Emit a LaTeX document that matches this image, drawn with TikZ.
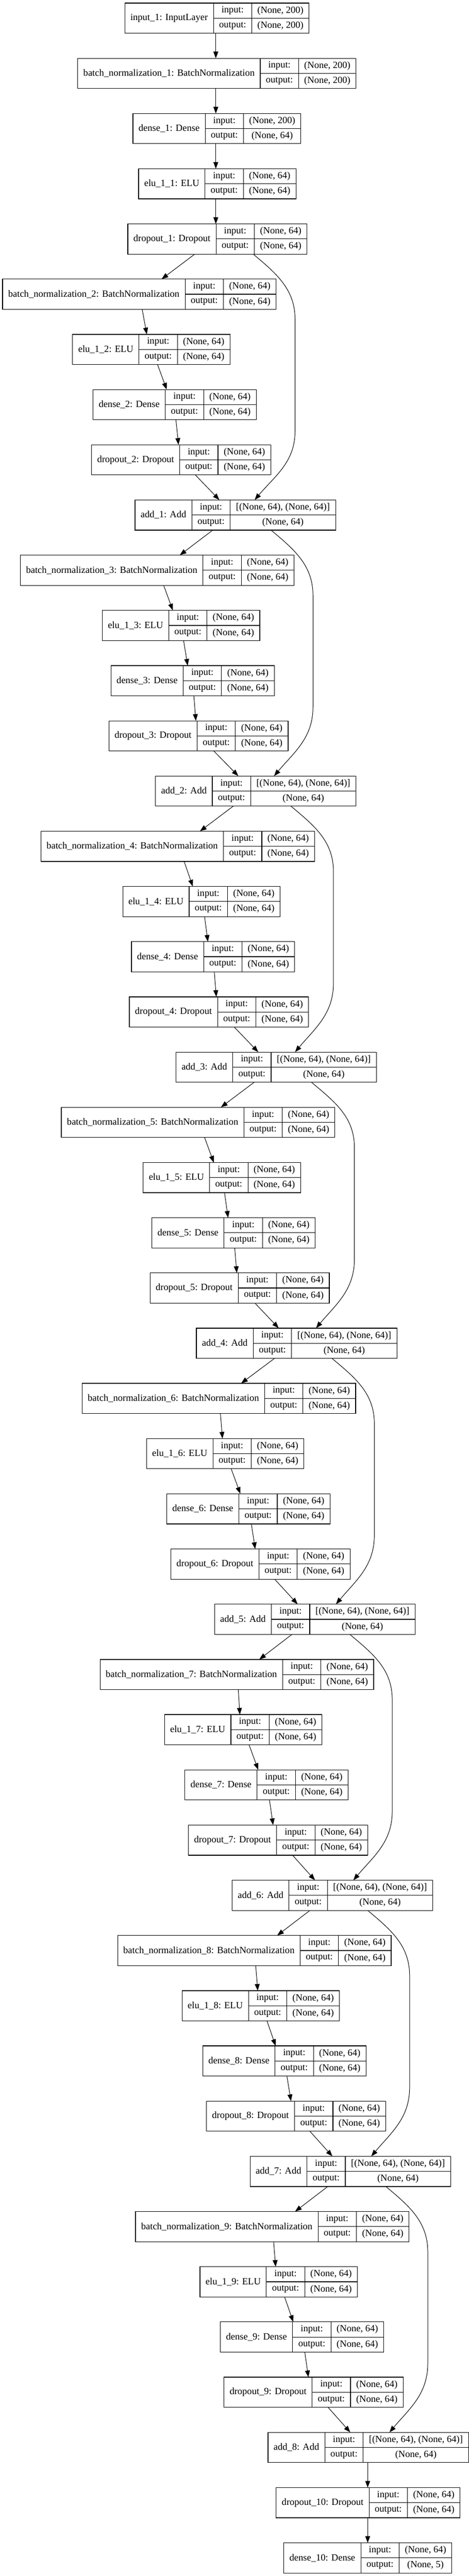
\documentclass[tikz,border=0pt]{standalone}
\usepackage{fontspec}
\setmainfont{Liberation Serif}
\usetikzlibrary{arrows.meta}

\tikzset{
  cell/.style={draw, line width=1.2pt, inner sep=0pt, outer sep=0pt, font=\fontsize{18.67}{20}\selectfont},
  lbl/.style={cell, minimum height=59pt, inner xsep=11pt},
  fld/.style={cell, minimum height=29.5pt, minimum width=75pt},
  val/.style={cell, minimum height=29.5pt},
  edge/.style={-{Triangle[length=13pt,width=9.5pt]}, line width=1pt}
}

% one keras layer record: name, left x, top y, label, input, output, value width
\newcommand\layer[7]{%
  \node[lbl, anchor=north west] (#1) at (#2,-#3) {#4};
  \node[fld, anchor=north west] (#1-fi) at (#1.north east) {input:};
  \node[fld, anchor=north west] (#1-fo) at (#1-fi.south west) {output:};
  \node[val, minimum width=#7pt, anchor=north west] (#1-vi) at (#1-fi.north east) {#5};
  \node[val, minimum width=#7pt, anchor=north west] (#1-vo) at (#1-fo.north east) {#6};
}

\begin{document}
\begin{tikzpicture}[x=1pt, y=1pt]
    \fill[white] (0,0) rectangle (914,-5039);

    % input stem
    \layer{input1}{244}{6}{input\_1: InputLayer}{(None, 200)}{(None, 200)}{112}
    \layer{bn1}{152}{114}{batch\_normalization\_1: BatchNormalization}{(None, 200)}{(None, 200)}{112}
    \layer{dense1}{260}{222}{dense\_1: Dense}{(None, 200)}{(None, 64)}{112}
    \layer{elu1}{271}{330}{elu\_1\_1: ELU}{(None, 64)}{(None, 64)}{103}
    \layer{drop1}{250}{438}{dropout\_1: Dropout}{(None, 64)}{(None, 64)}{103}

    % residual blocks
    \layer{bn2}{5}{546}{batch\_normalization\_2: BatchNormalization}{(None, 64)}{(None, 64)}{103}
    \layer{elu2}{142}{654}{elu\_1\_2: ELU}{(None, 64)}{(None, 64)}{103}
    \layer{dense2}{182}{762}{dense\_2: Dense}{(None, 64)}{(None, 64)}{103}
    \layer{drop2}{179}{870}{dropout\_2: Dropout}{(None, 64)}{(None, 64)}{103}
    \layer{add1}{264}{978}{add\_1: Add}{[(None, 64), (None, 64)]}{(None, 64)}{206}

    \layer{bn3}{40}{1086}{batch\_normalization\_3: BatchNormalization}{(None, 64)}{(None, 64)}{103}
    \layer{elu3}{200}{1194}{elu\_1\_3: ELU}{(None, 64)}{(None, 64)}{103}
    \layer{dense3}{217}{1302}{dense\_3: Dense}{(None, 64)}{(None, 64)}{103}
    \layer{drop3}{213}{1410}{dropout\_3: Dropout}{(None, 64)}{(None, 64)}{103}
    \layer{add2}{304}{1518}{add\_2: Add}{[(None, 64), (None, 64)]}{(None, 64)}{206}

    \layer{bn4}{80}{1626}{batch\_normalization\_4: BatchNormalization}{(None, 64)}{(None, 64)}{103}
    \layer{elu4}{240}{1734}{elu\_1\_4: ELU}{(None, 64)}{(None, 64)}{103}
    \layer{dense4}{257}{1842}{dense\_4: Dense}{(None, 64)}{(None, 64)}{103}
    \layer{drop4}{253}{1950}{dropout\_4: Dropout}{(None, 64)}{(None, 64)}{103}
    \layer{add3}{344}{2058}{add\_3: Add}{[(None, 64), (None, 64)]}{(None, 64)}{206}

    \layer{bn5}{120}{2166}{batch\_normalization\_5: BatchNormalization}{(None, 64)}{(None, 64)}{103}
    \layer{elu5}{280}{2274}{elu\_1\_5: ELU}{(None, 64)}{(None, 64)}{103}
    \layer{dense5}{297}{2382}{dense\_5: Dense}{(None, 64)}{(None, 64)}{103}
    \layer{drop5}{293.5}{2490}{dropout\_5: Dropout}{(None, 64)}{(None, 64)}{103}
    \layer{add4}{384}{2598}{add\_4: Add}{[(None, 64), (None, 64)]}{(None, 64)}{206}

    \layer{bn6}{160.5}{2706}{batch\_normalization\_6: BatchNormalization}{(None, 64)}{(None, 64)}{103}
    \layer{elu6}{286.5}{2814}{elu\_1\_6: ELU}{(None, 64)}{(None, 64)}{103}
    \layer{dense6}{326}{2922}{dense\_6: Dense}{(None, 64)}{(None, 64)}{103}
    \layer{drop6}{334}{3030}{dropout\_6: Dropout}{(None, 64)}{(None, 64)}{103}
    \layer{add5}{419.5}{3138}{add\_5: Add}{[(None, 64), (None, 64)]}{(None, 64)}{206}

    \layer{bn7}{195.7}{3246}{batch\_normalization\_7: BatchNormalization}{(None, 64)}{(None, 64)}{103}
    \layer{elu7}{321.6}{3354}{elu\_1\_7: ELU}{(None, 64)}{(None, 64)}{103}
    \layer{dense7}{361.5}{3462}{dense\_7: Dense}{(None, 64)}{(None, 64)}{103}
    \layer{drop7}{368.5}{3570}{dropout\_7: Dropout}{(None, 64)}{(None, 64)}{103}
    \layer{add6}{454}{3678}{add\_6: Add}{[(None, 64), (None, 64)]}{(None, 64)}{206}

    \layer{bn8}{230}{3786}{batch\_normalization\_8: BatchNormalization}{(None, 64)}{(None, 64)}{103}
    \layer{elu8}{356}{3894}{elu\_1\_8: ELU}{(None, 64)}{(None, 64)}{103}
    \layer{dense8}{396.6}{4002}{dense\_8: Dense}{(None, 64)}{(None, 64)}{103}
    \layer{drop8}{403.6}{4110}{dropout\_8: Dropout}{(None, 64)}{(None, 64)}{103}
    \layer{add7}{489}{4218}{add\_7: Add}{[(None, 64), (None, 64)]}{(None, 64)}{206}

    \layer{bn9}{265}{4326}{batch\_normalization\_9: BatchNormalization}{(None, 64)}{(None, 64)}{103}
    \layer{elu9}{391}{4434}{elu\_1\_9: ELU}{(None, 64)}{(None, 64)}{103}
    \layer{dense9}{431}{4542}{dense\_9: Dense}{(None, 64)}{(None, 64)}{103}
    \layer{drop9}{438}{4650}{dropout\_9: Dropout}{(None, 64)}{(None, 64)}{103}
    \layer{add8}{524}{4758}{add\_8: Add}{[(None, 64), (None, 64)]}{(None, 64)}{206}

    % head
    \layer{drop10}{540}{4866}{dropout\_10: Dropout}{(None, 64)}{(None, 64)}{103}
    \layer{dense10}{555}{4974}{dense\_10: Dense}{(None, 64)}{(None, 5)}{103}

    % main path
    \draw[edge] ([xshift=178]input1.south west) -- ([xshift=270]bn1.north west);
    \draw[edge] ([xshift=270]bn1.south west) -- ([xshift=162]dense1.north west);
    \draw[edge] ([xshift=162]dense1.south west) -- ([xshift=151]elu1.north west);
    \draw[edge] ([xshift=151]elu1.south west) -- ([xshift=172]drop1.north west);

    \draw[edge] ([xshift=131]drop1.south west) -- ([xshift=311]bn2.north west);
    \draw[edge] ([xshift=273]bn2.south west) -- ([xshift=145]elu2.north west);
    \draw[edge] ([xshift=166]elu2.south west) -- ([xshift=144]dense2.north west);
    \draw[edge] ([xshift=162]dense2.south west) -- ([xshift=170]drop2.north west);
    \draw[edge] ([xshift=203]drop2.south west) -- ([xshift=165]add1.north west);

    \draw[edge] ([xshift=152]add1.south west) -- ([xshift=311.5]bn3.north west);
    \draw[edge] ([xshift=280]bn3.south west) -- ([xshift=138]elu3.north west);
    \draw[edge] ([xshift=159]elu3.south west) -- ([xshift=150]dense3.north west);
    \draw[edge] ([xshift=162]dense3.south west) -- ([xshift=170]drop3.north west);
    \draw[edge] ([xshift=205]drop3.south west) -- ([xshift=162]add2.north west);

    \draw[edge] ([xshift=152]add2.south west) -- ([xshift=311]bn4.north west);
    \draw[edge] ([xshift=280]bn4.south west) -- ([xshift=137]elu4.north west);
    \draw[edge] ([xshift=160]elu4.south west) -- ([xshift=149.5]dense4.north west);
    \draw[edge] ([xshift=162]dense4.south west) -- ([xshift=170]drop4.north west);
    \draw[edge] ([xshift=205]drop4.south west) -- ([xshift=161]add3.north west);

    \draw[edge] ([xshift=153]add3.south west) -- ([xshift=312]bn5.north west);
    \draw[edge] ([xshift=280]bn5.south west) -- ([xshift=138]elu5.north west);
    \draw[edge] ([xshift=159]elu5.south west) -- ([xshift=149]dense5.north west);
    \draw[edge] ([xshift=162]dense5.south west) -- ([xshift=169.5]drop5.north west);
    \draw[edge] ([xshift=205]drop5.south west) -- ([xshift=161]add4.north west);

    \draw[edge] ([xshift=153]add4.south west) -- ([xshift=311]bn6.north west);
    \draw[edge] ([xshift=270.5]bn6.south west) -- ([xshift=148.5]elu6.north west);
    \draw[edge] ([xshift=165.5]elu6.south west) -- ([xshift=144]dense6.north west);
    \draw[edge] ([xshift=165.5]dense6.south west) -- ([xshift=165]drop6.north west);
    \draw[edge] ([xshift=203]drop6.south west) -- ([xshift=162.5]add5.north west);

    \draw[edge] ([xshift=151.5]add5.south west) -- ([xshift=311.3]bn7.north west);
    \draw[edge] ([xshift=270.3]bn7.south west) -- ([xshift=147.4]elu7.north west);
    \draw[edge] ([xshift=165.4]elu7.south west) -- ([xshift=143.5]dense7.north west);
    \draw[edge] ([xshift=165.5]dense7.south west) -- ([xshift=165.5]drop7.north west);
    \draw[edge] ([xshift=203.5]drop7.south west) -- ([xshift=162]add6.north west);

    \draw[edge] ([xshift=152]add6.south west) -- ([xshift=312]bn8.north west);
    \draw[edge] ([xshift=270]bn8.south west) -- ([xshift=148]elu8.north west);
    \draw[edge] ([xshift=166]elu8.south west) -- ([xshift=142.4]dense8.north west);
    \draw[edge] ([xshift=164.4]dense8.south west) -- ([xshift=165.4]drop8.north west);
    \draw[edge] ([xshift=202.4]drop8.south west) -- ([xshift=161]add7.north west);

    \draw[edge] ([xshift=152]add7.south west) -- ([xshift=312]bn9.north west);
    \draw[edge] ([xshift=270]bn9.south west) -- ([xshift=148]elu9.north west);
    \draw[edge] ([xshift=165.5]elu9.south west) -- ([xshift=142.5]dense9.north west);
    \draw[edge] ([xshift=165]dense9.south west) -- ([xshift=165]drop9.north west);
    \draw[edge] ([xshift=203.5]drop9.south west) -- ([xshift=161]add8.north west);

    \draw[edge] ([xshift=195]add8.south west) -- ([xshift=179]drop10.north west);
    \draw[edge] ([xshift=179]drop10.south west) -- ([xshift=164]dense10.north west);

    % skip connections
    \draw[edge] ([xshift=245]drop1.south west) to[out=-40,in=90] ++(82,-128) -- ++(0,-218) to[out=-90,in=50] ([xshift=234]add1.north west);
    \draw[edge] ([xshift=266]add1.south west) to[out=-40,in=90] ++(82,-128) -- ++(0,-218) to[out=-90,in=50] ([xshift=232]add2.north west);
    \draw[edge] ([xshift=265]add2.south west) to[out=-40,in=90] ++(83,-128) -- ++(0,-218) to[out=-90,in=50] ([xshift=233]add3.north west);
    \draw[edge] ([xshift=265]add3.south west) to[out=-40,in=90] ++(84,-128) -- ++(0,-218) to[out=-90,in=50] ([xshift=234]add4.north west);
    \draw[edge] ([xshift=265]add4.south west) to[out=-40,in=90] ++(83,-128) -- ++(0,-218) to[out=-90,in=50] ([xshift=237.5]add5.north west);
    \draw[edge] ([xshift=264.5]add5.south west) to[out=-40,in=90] ++(83,-128) -- ++(0,-218) to[out=-90,in=50] ([xshift=237]add6.north west);
    \draw[edge] ([xshift=265]add6.south west) to[out=-40,in=90] ++(82,-128) -- ++(0,-218) to[out=-90,in=50] ([xshift=237]add7.north west);
    \draw[edge] ([xshift=265.5]add7.south west) to[out=-40,in=90] ++(82,-128) -- ++(0,-218) to[out=-90,in=50] ([xshift=237.6]add8.north west);
\end{tikzpicture}
\end{document}
